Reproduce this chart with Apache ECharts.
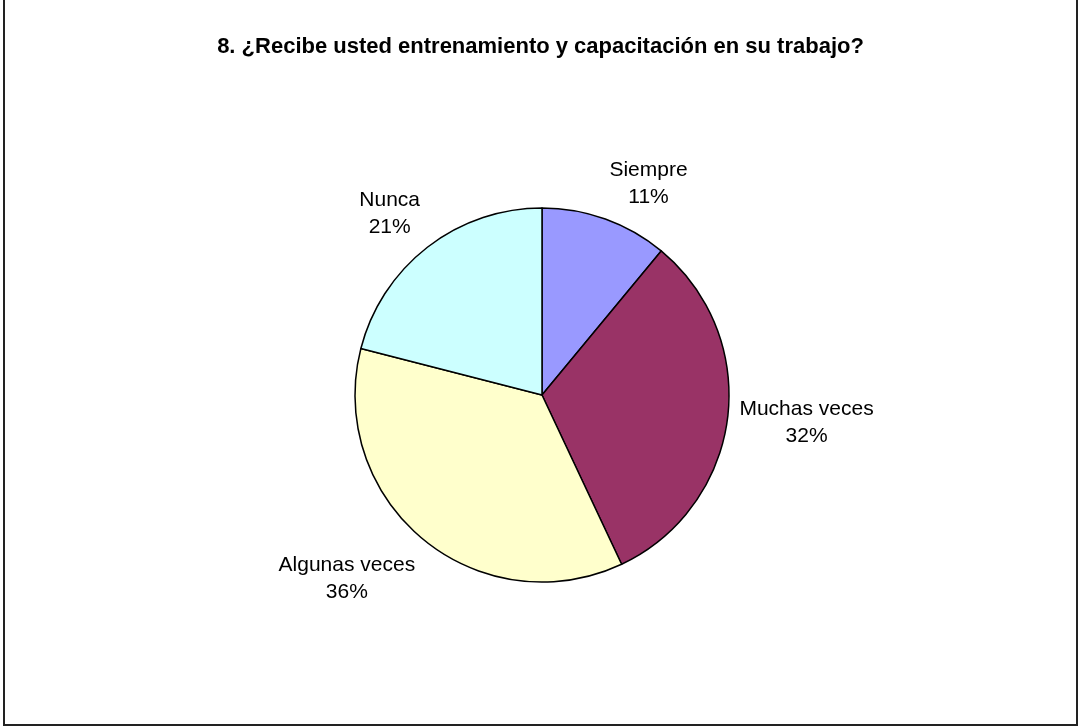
<!DOCTYPE html>
<html>
<head>
<meta charset="utf-8">
<script src="https://cdn.jsdelivr.net/npm/echarts@6/dist/echarts.min.js"></script>
<style>
  html, body { margin: 0; padding: 0; background: #fff; }
  #chart { width: 1081px; height: 728px; }
</style>
</head>
<body>
<div id="chart"></div>
<script>
// Survey answers, in clockwise order starting at 12 o'clock
const categories = ['Siempre', 'Muchas veces', 'Algunas veces', 'Nunca'];
const values = [11, 32, 36, 21];
const sliceColors = ['#9999FF', '#993366', '#FFFFCC', '#CCFFFF'];
const titleText = '8. ¿Recibe usted entrenamiento y capacitación en su trabajo?';

const FONT = '"Liberation Sans", Arial, sans-serif';
const CENTER = [542, 395];
const RADIUS = 187;
const LABEL_GAP = 12;
const LABEL_NUDGE_Y = 3;

const total = values.reduce((a, b) => a + b, 0);
// mid angle of each slice, measured clockwise from the top
const midAngles = [];
let acc = 0;
values.forEach(v => {
  midAngles.push(((acc + v / 2) / total) * Math.PI * 2);
  acc += v;
});

const clamp = (v, lo, hi) => Math.max(lo, Math.min(hi, v));

const chart = echarts.init(document.getElementById('chart'), null, { renderer: 'canvas' });
chart.setOption({
  backgroundColor: '#ffffff',
  animation: false,
  title: {
    text: titleText,
    left: 'center',
    top: 31,
    textStyle: { fontFamily: FONT, fontSize: 22, fontWeight: 'bold', color: '#000' }
  },
  graphic: [{
    type: 'rect',
    silent: true,
    shape: { x: 4, y: -5, width: 1073, height: 730 },
    style: { fill: 'none', stroke: '#222', lineWidth: 2 }
  }],
  series: [{
    type: 'pie',
    center: CENTER,
    radius: RADIUS,
    startAngle: 90,
    clockwise: true,
    percentPrecision: 0,
    data: categories.map((name, i) => ({
      name, value: values[i], itemStyle: { color: sliceColors[i] }
    })),
    itemStyle: { borderColor: '#000', borderWidth: 1.5 },
    label: {
      show: true,
      position: 'outside',
      formatter: '{b}\n{d}%',
      fontFamily: FONT,
      fontSize: 21,
      lineHeight: 27,
      color: '#000',
      align: 'center'
    },
    labelLine: { show: false },
    emphasis: { disabled: true },
    // Each label box sits just outside the rim, pushed away along its slice's mid angle
    labelLayout: function (params) {
      const a = midAngles[params.dataIndex];
      const dx = Math.sin(a), dy = -Math.cos(a);
      const w = params.labelRect.width, h = params.labelRect.height;
      const px = CENTER[0] + (RADIUS + LABEL_GAP) * dx;
      const py = CENTER[1] + (RADIUS + LABEL_GAP) * dy;
      const vy = Math.sign(dy) * clamp((Math.abs(dy) - 0.2) * 2, 0, 1);
      return {
        x: px + (w / 2) * clamp(dx * 3, -1, 1),
        y: py + (h / 2) * vy + LABEL_NUDGE_Y,
        align: 'center',
        verticalAlign: 'middle'
      };
    }
  }]
});
</script>
</body>
</html>
